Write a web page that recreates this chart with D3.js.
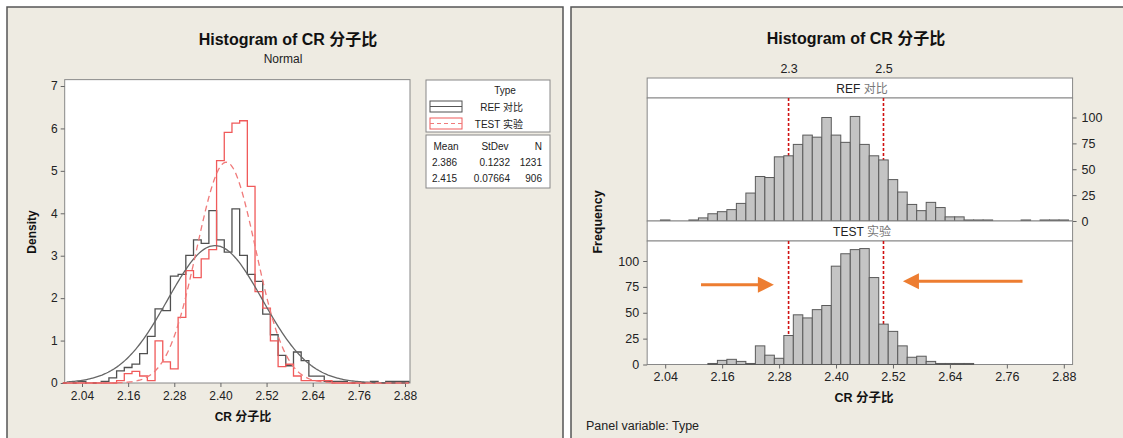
<!DOCTYPE html>
<html>
<head>
<meta charset="utf-8">
<script src="https://cdn.jsdelivr.net/npm/d3@7"></script>
<style>
  body { margin: 0; background: #fff; }
  svg text { font-family: "Liberation Sans", Arial, "Noto Sans CJK SC", sans-serif; }
</style>
</head>
<body>
<script>
// bin centres (width 0.02) shared by both charts
const binCenters = [2.00, 2.02, 2.04, 2.06, 2.08, 2.10, 2.12, 2.14, 2.16, 2.18,
  2.20, 2.22, 2.24, 2.26, 2.28, 2.30, 2.32, 2.34, 2.36, 2.38,
  2.40, 2.42, 2.44, 2.46, 2.48, 2.50, 2.52, 2.54, 2.56, 2.58,
  2.60, 2.62, 2.64, 2.66, 2.68, 2.70, 2.72, 2.74, 2.76, 2.78,
  2.80, 2.82, 2.84, 2.86, 2.88];
const binWidth = 0.02;

// counts
const refCounts = [0, 0, 1, 0, 0, 1, 3, 7, 9, 11,
  17, 27, 43, 42, 62, 63, 74, 83, 81, 100,
  83, 76, 101, 74, 63, 59, 40, 28, 16, 10,
  18, 13, 4, 4, 1, 1, 1, 0, 0, 0,
  1, 0, 1, 1, 1];
const testCounts = [0, 0, 0, 0, 0, 0, 0, 1, 4, 5,
  3, 1, 18, 9, 6, 28, 48, 45, 53, 57,
  95, 107, 111, 112, 84, 39, 32, 18, 7, 8,
  3, 1, 1, 1, 1, 0, 0, 0, 0, 0,
  0, 0, 0, 0, 0];

const seriesNames = ["REF 对比", "TEST 实验"];
const seriesMean = [2.386, 2.415];
const seriesStDev = [0.1232, 0.07664];
const seriesN = [1231, 906];
const meanLabels = ["2.386", "2.415"];
const stdevLabels = ["0.1232", "0.07664"];

const xTicks = [2.04, 2.16, 2.28, 2.40, 2.52, 2.64, 2.76, 2.88];
const densityTicks = [0, 1, 2, 3, 4, 5, 6, 7];
const freqTicks = [0, 25, 50, 75, 100];
const refLines = [2.3, 2.5];

const beige = "#eeebe2";
const svg = d3.select("body").append("svg")
  .attr("width", 1123).attr("height", 438);

// two screenshot panels
svg.append("rect").attr("x", 7).attr("y", 7).attr("width", 556).attr("height", 440)
  .attr("fill", beige).attr("stroke", "#555").attr("stroke-width", 1.5);
svg.append("rect").attr("x", 571).attr("y", 7).attr("width", 560).attr("height", 440)
  .attr("fill", beige).attr("stroke", "#555").attr("stroke-width", 1.5);

function styleAxis(g, size) {
  g.select(".domain").remove();
  g.selectAll(".tick line").attr("stroke", "#666");
  g.selectAll(".tick text").attr("fill", "#222").style("font-size", size + "px");
}

// ---------------- left chart: density ----------------
function makeDensityChart() {
  const x = d3.scaleLinear().domain([2.04, 2.88]).range([82, 405]);
  const y = d3.scaleLinear().domain([0, 7]).range([383, 86]);
  const fx0 = x(1.995), fx1 = x(2.893), fy0 = y(7.15), fy1 = y(0);

  svg.append("rect").attr("x", fx0).attr("y", fy0)
    .attr("width", fx1 - fx0).attr("height", fy1 - fy0)
    .attr("fill", "#fff").attr("stroke", "#888");

  svg.append("g").attr("transform", "translate(0," + fy1 + ")")
    .call(d3.axisBottom(x).tickValues(xTicks).tickFormat(d3.format(".2f")).tickSize(4).tickPadding(4))
    .call(g => styleAxis(g, 12));
  svg.append("g").attr("transform", "translate(" + fx0 + ",0)")
    .call(d3.axisLeft(y).tickValues(densityTicks).tickFormat(d3.format("d")).tickSize(4).tickPadding(3))
    .call(g => styleAxis(g, 12));

  const colors = ["#505050", "#f05a5a"];
  [refCounts, testCounts].forEach((counts, s) => {
    // step outline of density histogram
    const pts = [];
    binCenters.forEach((c, i) => {
      const d = counts[i] / (seriesN[s] * binWidth);
      pts.push([c - binWidth / 2, d], [c + binWidth / 2, d]);
    });
    pts.unshift([binCenters[0] - binWidth / 2, 0]);
    pts.push([binCenters[binCenters.length - 1] + binWidth / 2, 0]);
    svg.append("path")
      .datum(pts)
      .attr("fill", "none").attr("stroke", colors[s]).attr("stroke-width", 1.3)
      .attr("d", d3.line().x(p => x(p[0])).y(p => y(p[1])));
  });

  // fitted normal curves
  const xs = d3.range(2.0, 2.89, 0.004);
  [0, 1].forEach(s => {
    const m = seriesMean[s], sd = seriesStDev[s];
    const pdf = v => Math.exp(-0.5 * ((v - m) / sd) ** 2) / (sd * Math.sqrt(2 * Math.PI));
    svg.append("path")
      .datum(xs)
      .attr("fill", "none")
      .attr("stroke", s === 0 ? "#666" : "#f07a7a")
      .attr("stroke-width", 1.3)
      .attr("stroke-dasharray", s === 0 ? null : "6,4")
      .attr("d", d3.line().x(v => x(v)).y(v => y(pdf(v))));
  });

  svg.append("text").attr("x", 288).attr("y", 45).attr("text-anchor", "middle")
    .style("font-size", "16px").style("font-weight", "bold").attr("fill", "#111")
    .text("Histogram of CR 分子比");
  svg.append("text").attr("x", 283).attr("y", 63).attr("text-anchor", "middle")
    .style("font-size", "12px").attr("fill", "#222").text("Normal");
  svg.append("text").attr("x", 243).attr("y", 421).attr("text-anchor", "middle")
    .style("font-size", "12px").style("font-weight", "bold").attr("fill", "#111")
    .text("CR 分子比");
  svg.append("text").attr("transform", "translate(36,232)rotate(-90)")
    .attr("text-anchor", "middle")
    .style("font-size", "12px").style("font-weight", "bold").attr("fill", "#111")
    .text("Density");

  // legend
  const lg = svg.append("g");
  lg.append("rect").attr("x", 426).attr("y", 80).attr("width", 124).attr("height", 52)
    .attr("fill", "#fff").attr("stroke", "#888");
  lg.append("rect").attr("x", 426).attr("y", 135).attr("width", 124).attr("height", 53)
    .attr("fill", "#fff").attr("stroke", "#888");
  lg.append("text").attr("x", 505).attr("y", 94).attr("text-anchor", "middle")
    .style("font-size", "10px").attr("fill", "#222").text("Type");
  [0, 1].forEach(s => {
    const yy = 101 + s * 17;
    lg.append("rect").attr("x", 430).attr("y", yy).attr("width", 32).attr("height", 11)
      .attr("fill", "#fff").attr("stroke", colors[s]);
    lg.append("line").attr("x1", 430).attr("x2", 462).attr("y1", yy + 5.5).attr("y2", yy + 5.5)
      .attr("stroke", s === 0 ? "#555" : "#f07a7a")
      .attr("stroke-dasharray", s === 0 ? null : "4,3");
    lg.append("text").attr("x", 523).attr("y", yy + 9.5).attr("text-anchor", "end")
      .style("font-size", "10px").attr("fill", "#222").text(seriesNames[s]);
  });
  const hy = 150;
  lg.append("text").attr("x", 446).attr("y", hy).attr("text-anchor", "middle")
    .style("font-size", "10px").attr("fill", "#222").text("Mean");
  lg.append("text").attr("x", 495).attr("y", hy).attr("text-anchor", "middle")
    .style("font-size", "10px").attr("fill", "#222").text("StDev");
  lg.append("text").attr("x", 542).attr("y", hy).attr("text-anchor", "end")
    .style("font-size", "10px").attr("fill", "#222").text("N");
  [0, 1].forEach(s => {
    const ry = 166 + s * 16;
    lg.append("text").attr("x", 432).attr("y", ry)
      .style("font-size", "10px").attr("fill", "#222").text(meanLabels[s]);
    lg.append("text").attr("x", 510).attr("y", ry).attr("text-anchor", "end")
      .style("font-size", "10px").attr("fill", "#222").text(stdevLabels[s]);
    lg.append("text").attr("x", 542).attr("y", ry).attr("text-anchor", "end")
      .style("font-size", "10px").attr("fill", "#222").text(seriesN[s]);
  });
}

// ---------------- right chart: paneled frequency ----------------
function makePanelChart() {
  const x = d3.scaleLinear().domain([2.04, 2.88]).range([665.2, 1063.8]);
  const fx0 = x(2.002), fx1 = x(2.8985);
  const panels = [
    { counts: refCounts, name: ["REF ", "对比"], stripTop: 78, top: 98, bottom: 221 },
    { counts: testCounts, name: ["TEST ", "实验"], stripTop: 221, top: 241, bottom: 364.5 }
  ];

  panels.forEach((p, k) => {
    const y = d3.scaleLinear().domain([0, 100]).range([p.bottom, p.bottom - 103.5]);
    // strip
    svg.append("rect").attr("x", fx0).attr("y", p.stripTop)
      .attr("width", fx1 - fx0).attr("height", p.top - p.stripTop)
      .attr("fill", "#fff").attr("stroke", "#888");
    const st = svg.append("text").attr("x", 862).attr("y", p.stripTop + 15)
      .attr("text-anchor", "middle").style("font-size", "12px");
    st.append("tspan").attr("fill", "#222").text(p.name[0]);
    st.append("tspan").attr("fill", "#777").text(p.name[1]);
    // plot area
    svg.append("rect").attr("x", fx0).attr("y", p.top)
      .attr("width", fx1 - fx0).attr("height", p.bottom - p.top)
      .attr("fill", "#fff").attr("stroke", "#888");

    // reference lines (behind bars)
    svg.selectAll(null).data(refLines).enter().append("line")
      .attr("x1", d => x(d)).attr("x2", d => x(d))
      .attr("y1", p.top).attr("y2", p.bottom)
      .attr("stroke", "#d01010").attr("stroke-width", 1.6)
      .attr("stroke-dasharray", "3,2");

    svg.selectAll(null).data(binCenters.map((c, i) => ({ c: c, n: p.counts[i] })).filter(d => d.n > 0))
      .enter().append("rect")
      .attr("x", d => x(d.c - binWidth / 2))
      .attr("width", d => x(d.c + binWidth / 2) - x(d.c - binWidth / 2))
      .attr("y", d => y(d.n))
      .attr("height", d => p.bottom - y(d.n))
      .attr("fill", "#c4c4c4").attr("stroke", "#5a5a5a").attr("stroke-width", 1);

    if (k === 0) {
      svg.append("g").attr("transform", "translate(" + fx1 + ",0)")
        .call(d3.axisRight(y).tickValues(freqTicks).tickSize(4).tickPadding(5))
        .call(g => styleAxis(g, 12.5));
    } else {
      svg.append("g").attr("transform", "translate(" + fx0 + ",0)")
        .call(d3.axisLeft(y).tickValues(freqTicks).tickSize(4).tickPadding(4))
        .call(g => styleAxis(g, 12.5));
      svg.append("g").attr("transform", "translate(0," + p.bottom + ")")
        .call(d3.axisBottom(x).tickValues(xTicks).tickFormat(d3.format(".2f")).tickSize(4).tickPadding(4))
        .call(g => styleAxis(g, 12.5));

      // orange annotation arrows
      const arrows = [{ from: 2.1155, to: 2.269, v: 77 }, { from: 2.793, to: 2.541, v: 80.5 }];
      arrows.forEach(a => {
        const dir = a.to > a.from ? 1 : -1;
        const tx = x(a.to), ty = y(a.v);
        svg.append("line").attr("x1", x(a.from)).attr("x2", tx - dir * 12)
          .attr("y1", ty).attr("y2", ty)
          .attr("stroke", "#ed7d31").attr("stroke-width", 3);
        svg.append("path")
          .attr("d", "M" + tx + "," + ty + "L" + (tx - dir * 16) + "," + (ty - 8) + "L" + (tx - dir * 16) + "," + (ty + 8) + "Z")
          .attr("fill", "#ed7d31");
      });
    }
  });

  // top axis for reference lines
  svg.append("g").attr("transform", "translate(0,78)")
    .call(d3.axisTop(x).tickValues(refLines).tickFormat(d3.format(".1f")).tickSize(0).tickPadding(5))
    .call(g => styleAxis(g, 12.5));

  svg.append("text").attr("x", 856).attr("y", 44).attr("text-anchor", "middle")
    .style("font-size", "16px").style("font-weight", "bold").attr("fill", "#111")
    .text("Histogram of CR 分子比");
  svg.append("text").attr("x", 864).attr("y", 402).attr("text-anchor", "middle")
    .style("font-size", "12.5px").style("font-weight", "bold").attr("fill", "#111")
    .text("CR 分子比");
  svg.append("text").attr("transform", "translate(602,222)rotate(-90)")
    .attr("text-anchor", "middle")
    .style("font-size", "12.5px").style("font-weight", "bold").attr("fill", "#111")
    .text("Frequency");
  svg.append("text").attr("x", 586).attr("y", 430)
    .style("font-size", "12.5px").attr("fill", "#222")
    .text("Panel variable: Type");
}

makeDensityChart();
makePanelChart();
</script>
</body>
</html>
